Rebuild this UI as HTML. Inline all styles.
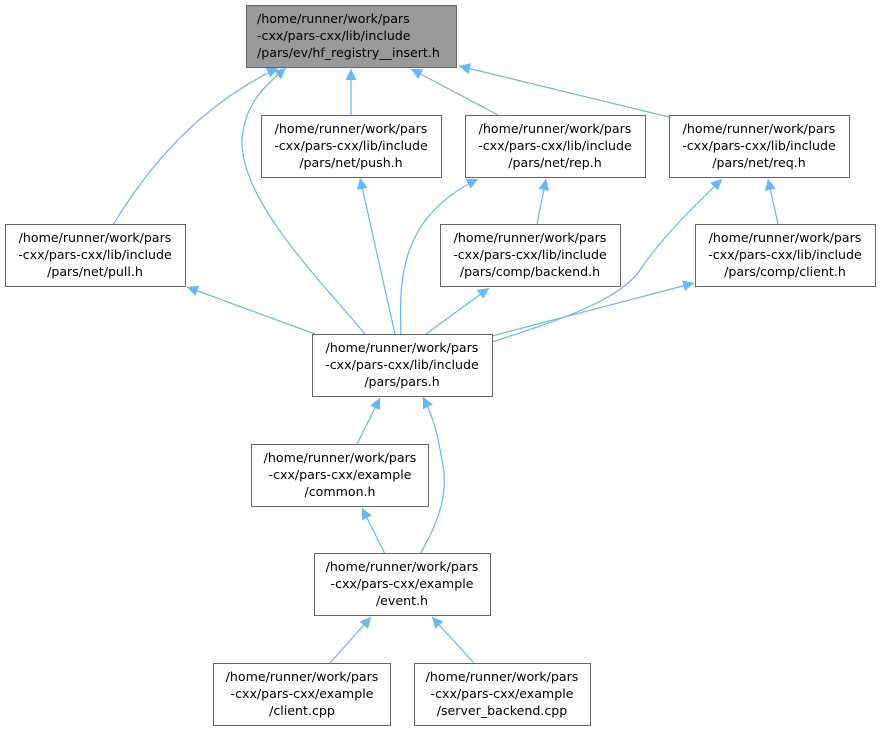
<!DOCTYPE html>
<html><head><meta charset="utf-8"><style>
html,body{margin:0;padding:0;background:#fff;width:882px;height:730px;overflow:hidden}
text{font-family:"DejaVu Sans","Liberation Sans",sans-serif;font-size:12.6px;fill:#000}
</style></head><body>
<svg width="882" height="730" viewBox="0 0 882 730" xmlns="http://www.w3.org/2000/svg">
<defs>
<marker id="a" viewBox="0 0 10 10" refX="10" refY="5" markerWidth="11" markerHeight="11" markerUnits="userSpaceOnUse" orient="auto">
<path d="M0,0 L10,5 L0,10 z" fill="#63b8ff"/>
</marker>
</defs>
<g fill="none" stroke="#63b8ff" stroke-width="1.2" marker-end="url(#a)">
<path d="M365,334 C320,280 240,200 242,140 C244,105 265,85 286,68"/>
<path d="M395,334 L360,178"/>
<path d="M401,334 C398,270 405,215 478,179"/>
<path d="M492,342 C560,320 620,300 640,270 C660,240 690,210 722,179"/>
<path d="M492,336 L694,283"/>
<path d="M426,334 L489,288"/>
<path d="M315,334 L187,287"/>
<path d="M113,225 C140,180 190,110 278,68"/>
<path d="M351,115 L351,69"/>
<path d="M498,115 L411,69"/>
<path d="M669,117 L459,66"/>
<path d="M537,224 L546,179"/>
<path d="M778,224 L768,179"/>
<path d="M357,444 L380,398"/>
<path d="M385,554 L362,508"/>
<path d="M420,554 C440,520 450,490 441,455 C437,430 432,415 423,397"/>
<path d="M330,663 L371,617"/>
<path d="M474,663 L432,617"/>
</g>
<g stroke="#666" stroke-width="1">
<rect x="246.5" y="5.5" width="210" height="62" fill="#999"/>
<rect x="261.5" y="115.5" width="180" height="62" fill="#fff"/>
<rect x="465.5" y="115.5" width="180" height="62" fill="#fff"/>
<rect x="669.5" y="115.5" width="180" height="62" fill="#fff"/>
<rect x="5.5" y="224.5" width="180" height="62" fill="#fff"/>
<rect x="440.5" y="224.5" width="180" height="62" fill="#fff"/>
<rect x="695.5" y="224.5" width="180" height="62" fill="#fff"/>
<rect x="312.5" y="334.5" width="180" height="62" fill="#fff"/>
<rect x="251.5" y="444.5" width="177" height="62" fill="#fff"/>
<rect x="314.5" y="553.5" width="176" height="62" fill="#fff"/>
<rect x="213.5" y="663.5" width="177" height="62" fill="#fff"/>
<rect x="414.5" y="663.5" width="176" height="62" fill="#fff"/>
</g>
<g>
<text x="257" y="23">/home/runner/work/pars</text>
<text x="257" y="40">-cxx/pars-cxx/lib/include</text>
<text x="257" y="57">/pars/ev/hf_registry__insert.h</text>
</g>
<g text-anchor="middle">
<text x="351" y="133">/home/runner/work/pars</text><text x="351" y="150">-cxx/pars-cxx/lib/include</text><text x="351" y="167">/pars/net/push.h</text>
<text x="555" y="133">/home/runner/work/pars</text><text x="555" y="150">-cxx/pars-cxx/lib/include</text><text x="555" y="167">/pars/net/rep.h</text>
<text x="759" y="133">/home/runner/work/pars</text><text x="759" y="150">-cxx/pars-cxx/lib/include</text><text x="759" y="167">/pars/net/req.h</text>
<text x="95" y="242">/home/runner/work/pars</text><text x="95" y="259">-cxx/pars-cxx/lib/include</text><text x="95" y="276">/pars/net/pull.h</text>
<text x="530" y="242">/home/runner/work/pars</text><text x="530" y="259">-cxx/pars-cxx/lib/include</text><text x="530" y="276">/pars/comp/backend.h</text>
<text x="785" y="242">/home/runner/work/pars</text><text x="785" y="259">-cxx/pars-cxx/lib/include</text><text x="785" y="276">/pars/comp/client.h</text>
<text x="402" y="352">/home/runner/work/pars</text><text x="402" y="369">-cxx/pars-cxx/lib/include</text><text x="402" y="386">/pars/pars.h</text>
<text x="340" y="462">/home/runner/work/pars</text><text x="340" y="479">-cxx/pars-cxx/example</text><text x="340" y="496">/common.h</text>
<text x="402" y="571">/home/runner/work/pars</text><text x="402" y="588">-cxx/pars-cxx/example</text><text x="402" y="605">/event.h</text>
<text x="302" y="681">/home/runner/work/pars</text><text x="302" y="698">-cxx/pars-cxx/example</text><text x="302" y="715">/client.cpp</text>
<text x="502" y="681">/home/runner/work/pars</text><text x="502" y="698">-cxx/pars-cxx/example</text><text x="502" y="715">/server_backend.cpp</text>
</g>
</svg>
</body></html>
